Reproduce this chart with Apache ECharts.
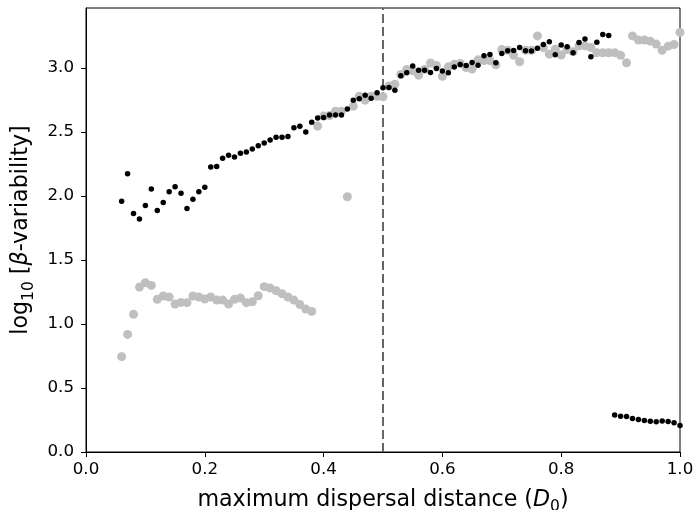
<!DOCTYPE html>
<html>
<head>
<meta charset="utf-8">
<script src="https://cdn.jsdelivr.net/npm/echarts@6/dist/echarts.min.js"></script>
<style>html,body{margin:0;padding:0;background:#fff}#c{width:694px;height:510px}</style>
</head>
<body>
<div id="c"></div>
<script>
// x positions (D0) for the black upper branch
const xBlackUpper = [0.06,0.07,0.08,0.09,0.10,0.11,0.12,0.13,0.14,0.15,0.16,0.17,0.18,0.19,0.20,0.21,0.22,0.23,0.24,0.25,0.26,0.27,0.28,0.29,0.30,0.31,0.32,0.33,0.34,0.35,0.36,0.37,0.38,0.39,0.40,0.41,0.42,0.43,0.44,0.45,0.46,0.47,0.48,0.49,0.50,0.51,0.52,0.53,0.54,0.55,0.56,0.57,0.58,0.59,0.60,0.61,0.62,0.63,0.64,0.65,0.66,0.67,0.68,0.69,0.70,0.71,0.72,0.73,0.74,0.75,0.76,0.77,0.78,0.79,0.80,0.81,0.82,0.83,0.84,0.85,0.86,0.87,0.88];
const yBlackUpper = [1.96,2.175,1.864,1.82,1.927,2.055,1.888,1.95,2.034,2.073,2.023,1.903,1.976,2.034,2.07,2.227,2.232,2.295,2.32,2.305,2.334,2.345,2.368,2.394,2.415,2.439,2.46,2.46,2.465,2.535,2.546,2.501,2.577,2.611,2.614,2.634,2.634,2.634,2.681,2.749,2.76,2.789,2.765,2.807,2.846,2.849,2.828,2.94,2.963,3.016,2.984,2.984,2.966,2.997,2.977,2.963,3.008,3.029,3.021,3.044,3.023,3.096,3.107,3.042,3.115,3.135,3.138,3.162,3.135,3.133,3.156,3.185,3.206,3.104,3.18,3.167,3.12,3.2,3.227,3.089,3.203,3.263,3.255];
// black lower branch
const xBlackLower = [0.89,0.90,0.91,0.92,0.93,0.94,0.95,0.96,0.97,0.98,0.99,1.00];
const yBlackLower = [0.29,0.279,0.278,0.262,0.254,0.247,0.24,0.236,0.242,0.238,0.228,0.207];
// grey series
const xGrey = [0.06,0.07,0.08,0.09,0.10,0.11,0.12,0.13,0.14,0.15,0.16,0.17,0.18,0.19,0.20,0.21,0.22,0.23,0.24,0.25,0.26,0.27,0.28,0.29,0.30,0.31,0.32,0.33,0.34,0.35,0.36,0.37,0.38,0.39,0.40,0.41,0.42,0.43,0.44,0.45,0.46,0.47,0.48,0.49,0.50,0.51,0.52,0.53,0.54,0.55,0.56,0.57,0.58,0.59,0.60,0.61,0.62,0.63,0.64,0.65,0.66,0.67,0.68,0.69,0.70,0.71,0.72,0.73,0.74,0.75,0.76,0.77,0.78,0.79,0.80,0.81,0.82,0.83,0.84,0.85,0.86,0.87,0.88,0.89,0.90,0.91,0.92,0.93,0.94,0.95,0.96,0.97,0.98,0.99,1.00];
const yGrey = [0.745,0.919,1.076,1.289,1.323,1.302,1.193,1.219,1.211,1.156,1.169,1.167,1.219,1.211,1.195,1.211,1.187,1.187,1.156,1.193,1.203,1.167,1.174,1.221,1.292,1.281,1.26,1.237,1.211,1.187,1.153,1.117,1.099,2.547,2.625,2.63,2.664,2.664,1.995,2.703,2.781,2.75,2.78,2.78,2.776,2.86,2.875,2.95,2.99,2.98,2.945,2.99,3.04,3.02,2.937,3.01,3.031,3.036,3.005,2.993,3.065,3.06,3.06,3.026,3.145,3.14,3.1,3.05,3.14,3.14,3.252,3.16,3.109,3.148,3.102,3.146,3.128,3.174,3.174,3.161,3.12,3.12,3.12,3.12,3.10,3.042,3.252,3.219,3.22,3.211,3.188,3.14,3.172,3.185,3.279];
const xTicks = [0, 0.2, 0.4, 0.6, 0.8, 1.0];
const yTicks = [0, 0.5, 1.0, 1.5, 2.0, 2.5, 3.0];
const thresholdX = 0.5;

const zip = (xs, ys) => xs.map((x, i) => [x, ys[i]]);
const FONT = 'DejaVu Sans';

const richStyles = {
  a: {fontSize: 22.2, fontFamily: FONT, color: '#000', lineHeight: 26, verticalAlign: 'bottom'},
  i: {fontSize: 22.2, fontFamily: FONT, fontStyle: 'italic', color: '#000', lineHeight: 26, verticalAlign: 'bottom'},
  s: {fontSize: 15.5, fontFamily: FONT, color: '#000', lineHeight: 19, verticalAlign: 'bottom', padding: [0, 0, -4, 0]}
};

const chart = echarts.init(document.getElementById('c'), null, {renderer: 'canvas'});
chart.setOption({
  animation: false,
  backgroundColor: '#fff',
  grid: {left: 86, right: 14, top: 8, bottom: 58, containLabel: false, outerBoundsMode: 'none', show: true, borderColor: '#000', borderWidth: 1, backgroundColor: 'transparent'},
  xAxis: {
    type: 'value', min: 0, max: 1, interval: 0.2,
    splitLine: {show: false},
    axisLine: {lineStyle: {color: '#000', width: 1}},
    axisTick: {show: true, length: 5, lineStyle: {color: '#000'}, customValues: xTicks},
    axisLabel: {color: '#000', fontSize: 16.7, fontFamily: FONT, margin: 9, customValues: xTicks, formatter: v => v.toFixed(1)},
    name: '{a|maximum dispersal distance (}{i|D}{s|0}{a|)}',
    nameLocation: 'middle', nameGap: 33,
    nameTextStyle: {fontFamily: FONT, rich: richStyles}
  },
  yAxis: {
    type: 'value', min: 0, max: 3.47,
    splitLine: {show: false},
    axisLine: {show: true, lineStyle: {color: '#000', width: 1}},
    axisTick: {show: true, length: 5, lineStyle: {color: '#000'}, customValues: yTicks},
    axisLabel: {color: '#000', fontSize: 16.7, fontFamily: FONT, margin: 12, customValues: yTicks, formatter: v => v.toFixed(1)},
    name: '{a|log}{s|10}{a| [}{i|β}{a|-variability]}',
    nameLocation: 'middle', nameGap: 50, nameRotate: 90,
    nameTextStyle: {fontFamily: FONT, rich: richStyles}
  },
  series: [
    {
      type: 'scatter', name: 'grey', data: zip(xGrey, yGrey),
      symbol: 'circle', symbolSize: 9, clip: true,
      itemStyle: {color: '#bfbfbf', opacity: 1},
      emphasis: {disabled: true},
      z: 2,
      markLine: {
        silent: true, symbol: ['none', 'none'], label: {show: false},
        lineStyle: {color: '#666666', width: 2, type: [9, 4], opacity: 1},
        emphasis: {disabled: true},
        data: [{xAxis: thresholdX}],
        z: 1
      }
    },
    {
      type: 'scatter', name: 'black upper', data: zip(xBlackUpper, yBlackUpper),
      symbol: 'circle', symbolSize: 5.5, clip: true,
      itemStyle: {color: '#000', opacity: 1},
      emphasis: {disabled: true}, z: 3
    },
    {
      type: 'scatter', name: 'black lower', data: zip(xBlackLower, yBlackLower),
      symbol: 'circle', symbolSize: 5.5, clip: true,
      itemStyle: {color: '#000', opacity: 1},
      emphasis: {disabled: true}, z: 3
    }
  ]
});
</script>
</body>
</html>
